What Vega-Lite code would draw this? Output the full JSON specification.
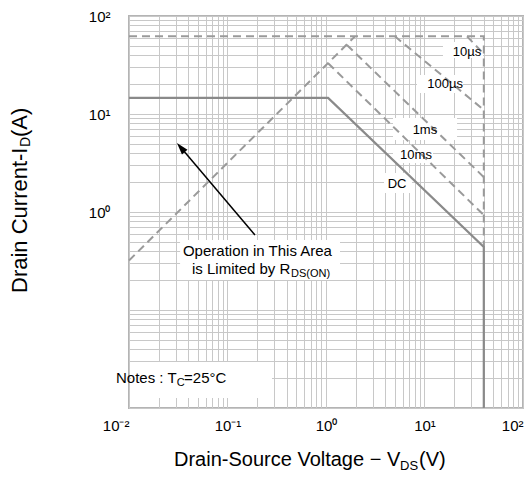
{
  "$schema": "https://vega.github.io/schema/vega-lite/v6.json",
  "width": 394,
  "height": 392,
  "autosize": {"type": "none"},
  "padding": {"left": 129, "top": 16, "right": 9, "bottom": 84},
  "config": {
    "view": {"stroke": "#b4b4b4", "strokeWidth": 2},
    "font": "Liberation Sans",
    "text": {"font": "Liberation Sans", "color": "#000000"}
  },
  "datasets": {
    "boxes": [
      {"v": 15.4, "v2": 39.3, "i": 54.3, "i2": 37.3},
      {"v": 8.39, "v2": 24.6, "i": 25.0, "i2": 16.4},
      {"v": 4.79, "v2": 21.4, "i": 9.1, "i2": 5.43},
      {"v": 4.79, "v2": 12.2, "i": 4.83, "i2": 3.16},
      {"v": 3.88, "v2": 7.46, "i": 2.5, "i2": 1.56},
      {"v": 0.033, "v2": 1.387, "i": 0.518, "i2": 0.202},
      {"v": 0.0105, "v2": 0.283, "i": 0.0294, "i2": 0.01265}
    ],
    "curves": [
      {"s": "limit", "o": 0, "v": 0.01, "i": 62},
      {"s": "limit", "o": 1, "v": 40, "i": 62},
      {"s": "limit", "o": 2, "v": 40, "i": 0.44},
      {"s": "rds", "o": 0, "v": 0.01, "i": 0.32},
      {"s": "rds", "o": 1, "v": 1.97, "i": 62},
      {"s": "10us", "o": 0, "v": 27, "i": 62},
      {"s": "10us", "o": 1, "v": 40, "i": 41},
      {"s": "100us", "o": 0, "v": 5.0, "i": 62},
      {"s": "100us", "o": 1, "v": 40, "i": 11},
      {"s": "1ms", "o": 0, "v": 1.63, "i": 50.6},
      {"s": "1ms", "o": 1, "v": 40, "i": 2.27},
      {"s": "10ms", "o": 0, "v": 1.05, "i": 33},
      {"s": "10ms", "o": 1, "v": 40, "i": 0.93},
      {"s": "DC", "o": 0, "v": 0.01, "i": 14.6},
      {"s": "DC", "o": 1, "v": 1.05, "i": 14.6},
      {"s": "DC", "o": 2, "v": 40, "i": 0.44},
      {"s": "DC", "o": 3, "v": 40, "i": 0.01}
    ],
    "curveLabels": [
      {"t": "10µs", "v": 27.0, "i": 43.0},
      {"t": "100µs", "v": 16.2, "i": 20.2},
      {"t": "1ms", "v": 10.1, "i": 6.87},
      {"t": "10ms", "v": 8.2, "i": 3.82},
      {"t": "DC", "v": 5.26, "i": 1.93}
    ],
    "notes": [
      {"t": "Operation in This Area", "v": 0.0353, "i": 0.3556},
      {"t": "is Limited by R", "v": 0.0436, "i": 0.233},
      {"t": "Notes : T", "v": 0.00738, "i": 0.018},
      {"t": "=25°C", "v": 0.0362, "i": 0.018}
    ],
    "subs": [
      {"t": "DS(ON)", "v": 0.4416, "i": 0.233},
      {"t": "C", "v": 0.0306, "i": 0.018}
    ],
    "xtitle": [
      {"t": "Drain-Source Voltage −  V", "v": 0.02864, "i": 0.002559},
      {"t": "(V)", "v": 8.79, "i": 0.002559}
    ],
    "xtitleSub": [
      {"t": "DS", "v": 5.64, "i": 0.002559}
    ],
    "ytitle": [
      {"t": "Drain Current-I", "v": 0.000928, "i": 0.1491},
      {"t": "(A)", "v": 0.000928, "i": 5.82}
    ],
    "ytitleSub": [
      {"t": "D", "v": 0.000988, "i": 4.6}
    ],
    "arrow": [
      {"v": 0.190, "i": 0.582, "v2": 0.0336, "i2": 4.54}
    ]
  },
  "encoding": {
    "x": {
      "field": "v",
      "type": "quantitative",
      "scale": {"type": "log", "domain": [0.01, 100], "nice": false},
      "axis": {
        "title": null,
        "values": [0.01, 0.02, 0.03, 0.04, 0.05, 0.06, 0.07, 0.08, 0.09, 0.1, 0.2, 0.3, 0.4, 0.5, 0.6, 0.7, 0.8, 0.9, 1, 2, 3, 4, 5, 6, 7, 8, 9, 10, 20, 30, 40, 50, 60, 70, 80, 90, 100],
        "labelExpr": "datum.value===0.01?'10⁻²':datum.value===0.1?'10⁻¹':datum.value===1?'10⁰':datum.value===10?'10¹':datum.value===100?'10²':''",
        "labelAlign": {"expr": "datum.value===0.01||datum.value===100?'right':'center'"},
        "grid": true,
        "gridColor": "#c8c8c8",
        "gridWidth": 1,
        "domain": false,
        "ticks": false,
        "tickSize": 0,
        "labelPadding": 10,
        "labelFontSize": 15,
        "labelFont": "Liberation Sans",
        "labelColor": "#000000",
        "labelOverlap": false,
        "labelFlush": false,
        "labelBound": false
      }
    },
    "y": {
      "field": "i",
      "type": "quantitative",
      "scale": {"type": "log", "domain": [0.01, 100], "nice": false},
      "axis": {
        "title": null,
        "values": [0.01, 0.02, 0.03, 0.04, 0.05, 0.06, 0.07, 0.08, 0.09, 0.1, 0.2, 0.3, 0.4, 0.5, 0.6, 0.7, 0.8, 0.9, 1, 2, 3, 4, 5, 6, 7, 8, 9, 10, 20, 30, 40, 50, 60, 70, 80, 90, 100],
        "labelExpr": "datum.value===1?'10⁰':datum.value===10?'10¹':datum.value===100?'10²':''",
        "grid": true,
        "gridColor": "#c8c8c8",
        "gridWidth": 1,
        "domain": false,
        "ticks": false,
        "tickSize": 0,
        "labelPadding": 19,
        "labelFontSize": 15,
        "labelFont": "Liberation Sans",
        "labelColor": "#000000",
        "labelOverlap": false,
        "labelBound": false
      }
    }
  },
  "layer": [
    {
      "data": {"name": "boxes"},
      "mark": {"type": "rect", "fill": "#ffffff", "strokeWidth": 0},
      "encoding": {"x2": {"field": "v2"}, "y2": {"field": "i2"}}
    },
    {
      "data": {"name": "curves"},
      "transform": [{"filter": "datum.s !== 'DC'"}],
      "mark": {"type": "line", "color": "#9a9a9a", "strokeWidth": 2, "strokeDash": [8, 5]},
      "encoding": {"detail": {"field": "s"}, "order": {"field": "o"}}
    },
    {
      "data": {"name": "curves"},
      "transform": [{"filter": "datum.s === 'DC'"}],
      "mark": {"type": "line", "color": "#8a8a8a", "strokeWidth": 2.2},
      "encoding": {"detail": {"field": "s"}, "order": {"field": "o"}}
    },
    {
      "data": {"name": "arrow"},
      "mark": {"type": "rule", "color": "#000000", "strokeWidth": 1.5},
      "encoding": {"x2": {"field": "v2"}, "y2": {"field": "i2"}}
    },
    {
      "data": {"name": "arrow"},
      "mark": {"type": "point", "shape": "M0,-1L-0.6,1L0.6,1Z", "filled": true, "color": "#000000", "opacity": 1, "size": 144, "angle": 319.7},
      "encoding": {"x": {"field": "v2", "type": "quantitative"}, "y": {"field": "i2", "type": "quantitative"}}
    },
    {
      "data": {"name": "curveLabels"},
      "mark": {"type": "text", "fontSize": 13, "align": "center", "baseline": "middle"},
      "encoding": {"text": {"field": "t"}}
    },
    {
      "data": {"name": "notes"},
      "mark": {"type": "text", "fontSize": 15, "align": "left", "baseline": "alphabetic"},
      "encoding": {"text": {"field": "t"}}
    },
    {
      "data": {"name": "subs"},
      "mark": {"type": "text", "fontSize": 11, "align": "left", "baseline": "alphabetic", "dy": 3},
      "encoding": {"text": {"field": "t"}}
    },
    {
      "data": {"name": "xtitle"},
      "mark": {"type": "text", "fontSize": 20, "align": "left", "baseline": "alphabetic"},
      "encoding": {"text": {"field": "t"}}
    },
    {
      "data": {"name": "xtitleSub"},
      "mark": {"type": "text", "fontSize": 13, "align": "left", "baseline": "alphabetic", "dy": 4},
      "encoding": {"text": {"field": "t"}}
    },
    {
      "data": {"name": "ytitle"},
      "mark": {"type": "text", "fontSize": 22, "align": "left", "baseline": "alphabetic", "angle": 270},
      "encoding": {"text": {"field": "t"}}
    },
    {
      "data": {"name": "ytitleSub"},
      "mark": {"type": "text", "fontSize": 14, "align": "left", "baseline": "alphabetic", "angle": 270},
      "encoding": {"text": {"field": "t"}}
    }
  ]
}
